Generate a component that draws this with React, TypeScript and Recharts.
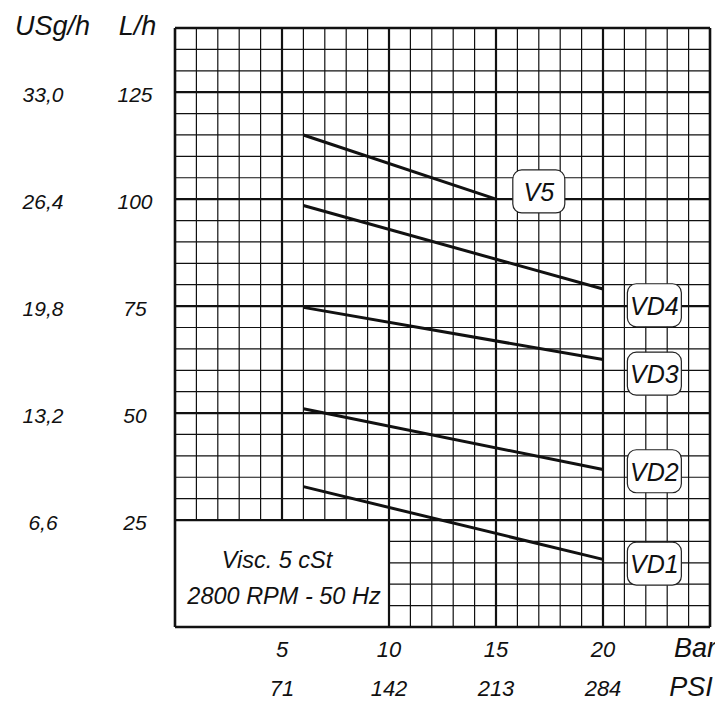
import React from "react";
import {
  LineChart,
  Line,
  XAxis,
  YAxis,
  ReferenceLine,
  ReferenceArea,
  ReferenceDot,
} from "recharts";

const FONT = "'Liberation Sans', Arial, Helvetica, sans-serif";

// Axis ticks
const barTicks = [5, 10, 15, 20];
const psiLabels = ["71", "142", "213", "284"];
const lhTicks = [25, 50, 75, 100, 125];
const usgLabels = ["6,6", "13,2", "19,8", "26,4", "33,0"];

// Series (pressure in bar, flow in L/h)
const v5 = [
  { bar: 6, lh: 115 },
  { bar: 15, lh: 100 },
];
const vd4 = [
  { bar: 6, lh: 98.5 },
  { bar: 20, lh: 79 },
];
const vd3 = [
  { bar: 6, lh: 74.7 },
  { bar: 20, lh: 62.5 },
];
const vd2 = [
  { bar: 6, lh: 51 },
  { bar: 20, lh: 36.8 },
];
const vd1 = [
  { bar: 6, lh: 32.8 },
  { bar: 20, lh: 15.8 },
];

const seriesNames = ["V5", "VD4", "VD3", "VD2", "VD1"];
const labelBar = [17, 22.4, 22.4, 22.4, 22.4];
const labelLh = [101.8, 75.2, 59.2, 36.4, 14.8];

const noteLines = ["Visc. 5 cSt", "2800 RPM - 50 Hz"];

const X_MAX = 25;
const Y_MAX = 140;

// Grid definitions
const minorX: number[] = [];
for (let b = 1; b < X_MAX; b++) if (b % 5 !== 0) minorX.push(b);
const minorY: number[] = [];
for (let l = 5; l < Y_MAX; l += 5) if (l % 25 !== 0) minorY.push(l);
const majorX = [5, 10, 15, 20];
const majorY = [25, 50, 75, 100, 125];

const XTick = (props: any) => {
  const { x, y, payload } = props;
  const i = barTicks.indexOf(payload.value);
  return (
    <g>
      <text x={x} y={y + 30} textAnchor="middle" fontSize={22} fontStyle="italic" fontFamily={FONT} fill="#111">
        {payload.value}
      </text>
      <text x={x} y={y + 69} textAnchor="middle" fontSize={22} fontStyle="italic" fontFamily={FONT} fill="#111">
        {psiLabels[i]}
      </text>
    </g>
  );
};

const YTick = (props: any) => {
  const { x, y, payload } = props;
  const i = lhTicks.indexOf(payload.value);
  return (
    <g>
      <text x={x - 40} y={y + 10} textAnchor="middle" fontSize={21} fontStyle="italic" fontFamily={FONT} fill="#111">
        {payload.value}
      </text>
      <text x={x - 132} y={y + 10} textAnchor="middle" fontSize={21} fontStyle="italic" fontFamily={FONT} fill="#111">
        {usgLabels[i]}
      </text>
    </g>
  );
};

const YHeader = (props: any) => {
  const vb = props.viewBox || { x: 0, y: 20 };
  return (
    <g>
      <text x={vb.x + 44.5} y={vb.y + 7} textAnchor="middle" fontSize={27} fontStyle="italic" fontFamily={FONT} fill="#111">
        USg/h
      </text>
      <text x={vb.x + 129.5} y={vb.y + 7} textAnchor="middle" fontSize={27} fontStyle="italic" fontFamily={FONT} fill="#111">
        L/h
      </text>
    </g>
  );
};

const XHeader = (props: any) => {
  const vb = props.viewBox || { x: 167, y: 619 };
  return (
    <g>
      <text x={vb.x + 520} y={vb.y + 30} textAnchor="middle" fontSize={27} fontStyle="italic" fontFamily={FONT} fill="#111">
        Bar
      </text>
      <text x={vb.x + 516} y={vb.y + 69} textAnchor="middle" fontSize={27} fontStyle="italic" fontFamily={FONT} fill="#111">
        PSI
      </text>
    </g>
  );
};

const NoteContent = (props: any) => {
  const vb = props.viewBox;
  if (!vb) return null;
  const cx = vb.x + vb.width / 2;
  return (
    <g>
      <text x={cx - 5} y={vb.y + 48} textAnchor="middle" fontSize={23.5} fontStyle="italic" fontFamily={FONT} fill="#111">
        {noteLines[0]}
      </text>
      <text x={cx + 2} y={vb.y + 84} textAnchor="middle" fontSize={23.5} fontStyle="italic" fontFamily={FONT} fill="#111">
        {noteLines[1]}
      </text>
    </g>
  );
};

const makeTag = (name: string) => (props: any) => {
  const { cx, cy } = props;
  const w = name.length > 2 ? 54 : 52;
  const h = 43;
  return (
    <g>
      <rect x={cx - w / 2} y={cy - h / 2} width={w} height={h} rx={9} ry={9} fill="#fff" stroke="#222" strokeWidth={1.2} />
      <text x={cx} y={cy + 9.5} textAnchor="middle" fontSize={25} fontStyle="italic" fontFamily={FONT} fill="#111">
        {name}
      </text>
    </g>
  );
};

const seriesData = [v5, vd4, vd3, vd2, vd1];

export default function App() {
  return (
    <div style={{ width: 715, height: 696, marginBottom: -8 }}>
      <LineChart width={715} height={696} margin={{ top: 20, right: 13, bottom: 0, left: 0 }}>
        <XAxis
          dataKey="bar"
          type="number"
          domain={[0, X_MAX]}
          ticks={barTicks}
          interval={0}
          allowDataOverflow
          axisLine={false}
          tickLine={false}
          tickSize={0}
          tickMargin={0}
          height={77}
          tick={<XTick />}
          label={{ content: <XHeader /> }}
        />
        <YAxis
          dataKey="lh"
          type="number"
          domain={[0, Y_MAX]}
          ticks={lhTicks}
          interval={0}
          allowDataOverflow
          axisLine={false}
          tickLine={false}
          tickSize={0}
          tickMargin={0}
          width={167}
          tick={<YTick />}
          label={{ content: <YHeader /> }}
        />
        {minorX.map((b) => (
          <ReferenceLine
            key={"mx" + b}
            segment={[
              { x: b, y: b < 10 ? 25 : 0 },
              { x: b, y: Y_MAX },
            ]}
            stroke="#111"
            strokeWidth={1.2}
          />
        ))}
        {minorY.map((l) => (
          <ReferenceLine
            key={"my" + l}
            segment={[
              { x: l < 25 ? 10 : 0, y: l },
              { x: X_MAX, y: l },
            ]}
            stroke="#111"
            strokeWidth={1.2}
          />
        ))}
        {majorX.map((b) => (
          <ReferenceLine
            key={"MX" + b}
            segment={[
              { x: b, y: b < 10 ? 25 : 0 },
              { x: b, y: Y_MAX },
            ]}
            stroke="#111"
            strokeWidth={2.2}
          />
        ))}
        {majorY.map((l) => (
          <ReferenceLine key={"MY" + l} y={l} stroke="#111" strokeWidth={2.2} />
        ))}
        <ReferenceLine x={0} stroke="#111" strokeWidth={2.6} />
        <ReferenceLine x={X_MAX} stroke="#111" strokeWidth={2.6} />
        <ReferenceLine y={0} stroke="#111" strokeWidth={2.6} />
        <ReferenceLine y={Y_MAX} stroke="#111" strokeWidth={2.6} />
        <ReferenceArea
          x1={0}
          x2={10}
          y1={0}
          y2={25}
          fill="#fff"
          fillOpacity={0}
          stroke="none"
          label={{ content: <NoteContent /> }}
        />
        {seriesData.map((d, i) => (
          <Line
            key={seriesNames[i]}
            data={d}
            dataKey="lh"
            type="linear"
            stroke="#111"
            strokeWidth={3}
            dot={false}
            activeDot={false}
            isAnimationActive={false}
          />
        ))}
        {seriesNames.map((n, i) => (
          <ReferenceDot key={"tag" + n} x={labelBar[i]} y={labelLh[i]} r={1} shape={makeTag(n)} />
        ))}
      </LineChart>
    </div>
  );
}
